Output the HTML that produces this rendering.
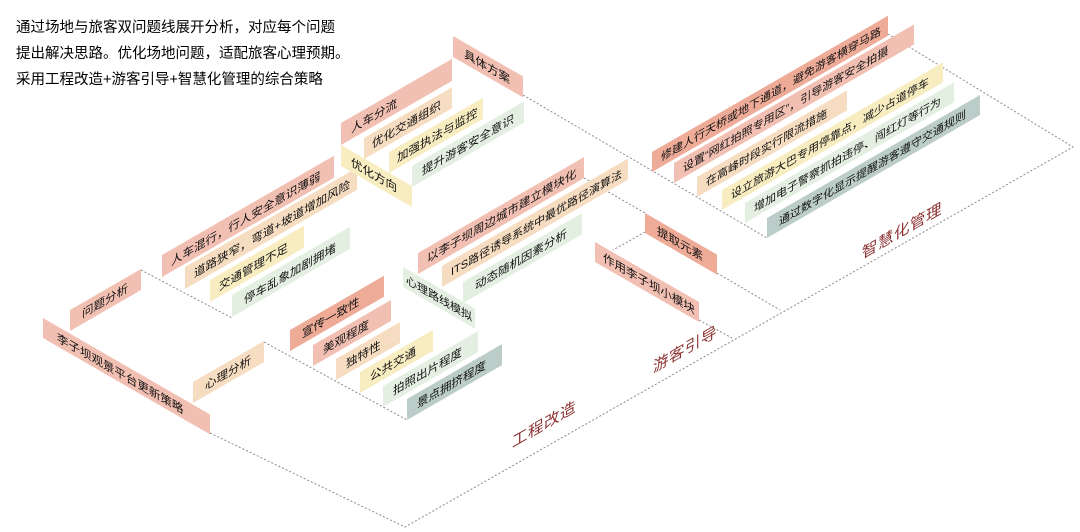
<!DOCTYPE html>
<html><head><meta charset="utf-8"><style>
html,body{margin:0;padding:0;background:#fff;}
svg{display:block;}
.t{font-family:"Liberation Sans","Noto Sans CJK SC",sans-serif;font-size:11.5px;fill:#111;}
.s{font-size:11px;}
.h{font-family:"Liberation Sans","Noto Sans CJK SC",sans-serif;font-size:14.5px;fill:#000;}
.big{font-family:"Liberation Sans","Noto Sans CJK SC",sans-serif;font-size:15.5px;fill:#8b3030;letter-spacing:0.5px;}
.d{stroke:#8a8a8a;stroke-width:1;stroke-dasharray:2 2;fill:none;}
</style></head><body>
<svg width="1080" height="532" viewBox="0 0 1080 532">
<text class="h" x="16" y="32">通过场地与旅客双问题线展开分析，对应每个问题</text>
<text class="h" x="16" y="58">提出解决思路。优化场地问题，适配旅客心理预期。</text>
<text class="h" x="16" y="84">采用工程改造+游客引导+智慧化管理的综合策略</text>

<path class="d" d="M210 433 L405 527 L1073 147 L888 34"/>
<path class="d" d="M141 270 L232 318"/>
<path class="d" d="M264 342 L407 420"/>
<path class="d" d="M523 95 L767 238"/>
<path class="d" d="M584 178 L645 213"/>
<path class="d" d="M645 232 L613 250"/>
<path class="d" d="M717 273 L780 310"/>
<path class="d" d="M699 320 L732 338"/>

<g transform="translate(70,310) skewY(-30)"><rect width="71" height="21" fill="#f2c0b3"/><text class="t" x="12" y="15">问题分析</text></g>
<g transform="translate(193,382) skewY(-30)"><rect width="71" height="21" fill="#f6dcc0"/><text class="t" x="12" y="15">心理分析</text></g>

<g transform="translate(162,255) skewY(-30)"><rect width="172" height="22" fill="#f2c0b3"/><text class="t" x="9" y="16">人车混行，行人安全意识薄弱</text></g>
<g transform="translate(185,267) skewY(-30)"><rect width="172" height="22" fill="#f6dcc0"/><text class="t" x="9" y="16">道路狭窄，弯道+坡道增加风险</text></g>
<g transform="translate(210,280) skewY(-30)"><rect width="94" height="22" fill="#f8ecc1"/><text class="t" x="9" y="16">交通管理不足</text></g>
<g transform="translate(232,295) skewY(-30)"><rect width="118" height="22" fill="#e3efe0"/><text class="t" x="12" y="16">停车乱象加剧拥堵</text></g>

<g transform="translate(290,330) skewY(-30)"><rect width="94" height="21" fill="#eeab98"/><text class="t" x="12" y="15">宣传一致性</text></g>
<g transform="translate(313,345) skewY(-30)"><rect width="78" height="21" fill="#f2c0b3"/><text class="t" x="10" y="15">美观程度</text></g>
<g transform="translate(336,359) skewY(-30)"><rect width="64" height="21" fill="#f6dcc0"/><text class="t" x="10" y="15">独特性</text></g>
<g transform="translate(360,372) skewY(-30)"><rect width="73" height="21" fill="#f8ecc1"/><text class="t" x="10" y="15">公共交通</text></g>
<g transform="translate(383,386) skewY(-30)"><rect width="95" height="21" fill="#e3efe0"/><text class="t" x="10" y="15">拍照出片程度</text></g>
<g transform="translate(407,399) skewY(-30)"><rect width="95" height="21" fill="#bccdc9"/><text class="t" x="10" y="15">景点拥挤程度</text></g>

<g transform="translate(418,253) skewY(-30)"><rect width="166" height="21" fill="#f2c0b3"/><text class="t" x="9" y="15">以李子坝周边城市建立模块化</text></g>
<g transform="translate(442,266) skewY(-30)"><rect width="186" height="21" fill="#f6dcc0"/><text class="t s" x="9" y="15">ITS路径诱导系统中最优路径演算法</text></g>
<g transform="translate(463,282) skewY(-30)"><rect width="119" height="21" fill="#e3efe0"/><text class="t" x="12" y="15">动态随机因素分析</text></g>

<g transform="translate(341,123) skewY(-30)"><rect width="111" height="22" fill="#f2c0b3"/><text class="t" x="10" y="16">人车分流</text></g>
<g transform="translate(364,138) skewY(-30)"><rect width="88" height="21" fill="#f6dcc0"/><text class="t" x="8" y="15">优化交通组织</text></g>
<g transform="translate(389,152) skewY(-30)"><rect width="94" height="21" fill="#f8ecc1"/><text class="t" x="8" y="15">加强执法与监控</text></g>
<g transform="translate(412,166) skewY(-30)"><rect width="112" height="21" fill="#e3efe0"/><text class="t" x="10" y="15">提升游客安全意识</text></g>

<g transform="translate(652,152) skewY(-30)"><rect width="236" height="20" fill="#eeab98"/><text class="t s" x="9" y="14.5">修建人行天桥或地下通道，避免游客横穿马路</text></g>
<g transform="translate(674,163) skewY(-30)"><rect width="240" height="20" fill="#f2c0b3"/><text class="t s" x="9" y="14.5">设置“网红拍照专用区”，引导游客安全拍摄</text></g>
<g transform="translate(697,177) skewY(-30)"><rect width="150" height="20" fill="#f6dcc0"/><text class="t s" x="9" y="14.5">在高峰时段实行限流措施</text></g>
<g transform="translate(722,190) skewY(-30)"><rect width="221" height="20" fill="#f8ecc1"/><text class="t s" x="9" y="14.5">设立旅游大巴专用停靠点，减少占道停车</text></g>
<g transform="translate(745,203) skewY(-30)"><rect width="209" height="20" fill="#e3efe0"/><text class="t s" x="9" y="14.5">增加电子警察抓拍违停、闯红灯等行为</text></g>
<g transform="translate(767,218) skewY(-30)"><rect width="213" height="20" fill="#bccdc9"/><text class="t s" x="12" y="14.5">通过数字化显示提醒游客遵守交通规则</text></g>

<g transform="translate(43,318) skewY(30)"><rect width="167" height="20" fill="#f2c0b3"/><text class="t" x="14" y="15">李子坝观景平台更新策略</text></g>
<g transform="translate(341,145) skewY(30)"><rect width="71" height="21" fill="#f8ecc1"/><text class="t" x="10" y="15">优化方向</text></g>
<g transform="translate(453,36) skewY(30)"><rect width="70" height="21" fill="#f2c0b3"/><text class="t" x="11" y="15">具体方案</text></g>
<g transform="translate(403,267) skewY(30)"><rect width="72" height="20" fill="#e3efe0"/><text class="t s" x="3" y="14.5">心理路线模拟</text></g>
<g transform="translate(645,213) skewY(30)"><rect width="72" height="20" fill="#eeab98"/><text class="t" x="12" y="14.5">提取元素</text></g>
<g transform="translate(595,242) skewY(30)"><rect width="104" height="20" fill="#f2c0b3"/><text class="t" x="8" y="14.5">作用李子坝小模块</text></g>

<g transform="translate(512,448) skewY(-30)"><text class="big" x="0" y="0">工程改造</text></g>
<g transform="translate(653,373) skewY(-30)"><text class="big" x="0" y="0">游客引导</text></g>
<g transform="translate(862,259) skewY(-30)"><text class="big" x="0" y="0">智慧化管理</text></g>
</svg>
</body></html>
